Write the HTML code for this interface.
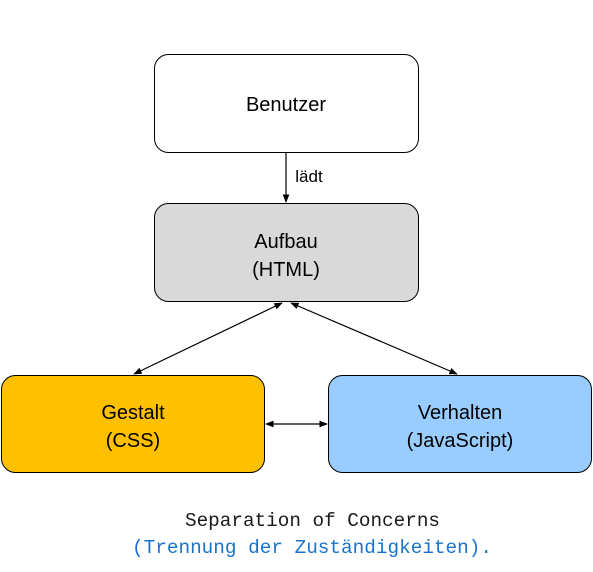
<!DOCTYPE html>
<html><head><meta charset="utf-8"><style>
html,body{margin:0;padding:0;background:#fff;width:593px;height:572px;overflow:hidden}
</style></head><body>
<svg width="593" height="572" viewBox="0 0 593 572" xmlns="http://www.w3.org/2000/svg">
<defs>
<marker id="a" viewBox="0 0 10 10" refX="9" refY="5" markerWidth="7" markerHeight="7" orient="auto-start-reverse"><path d="M0,1 L10,5 L0,9 z" fill="#000"/></marker>
</defs>
<rect x="154.5" y="54.5" width="264" height="98" rx="14" fill="#fff" stroke="#000" stroke-width="1"/>
<rect x="154.5" y="203.5" width="264" height="98" rx="14" fill="#d9d9d9" stroke="#000" stroke-width="1"/>
<rect x="1.5" y="375.5" width="263" height="97" rx="14" fill="#ffc000" stroke="#000" stroke-width="1"/>
<rect x="328.5" y="375.5" width="263" height="97" rx="14" fill="#99ccff" stroke="#000" stroke-width="1"/>
<line x1="286" y1="153" x2="286" y2="202" stroke="#000" stroke-width="1.2" marker-end="url(#a)"/>
<line x1="134" y1="374" x2="282" y2="303" stroke="#000" stroke-width="1.2" marker-start="url(#a)" marker-end="url(#a)"/>
<line x1="291" y1="303" x2="457" y2="374" stroke="#000" stroke-width="1.2" marker-start="url(#a)" marker-end="url(#a)"/>
<line x1="266" y1="424" x2="327" y2="424" stroke="#000" stroke-width="1.2" marker-start="url(#a)" marker-end="url(#a)"/>
<g font-family="Liberation Sans, sans-serif" font-size="20" text-anchor="middle" fill="#000">
<text x="286" y="111">Benutzer</text>
<text x="286" y="248">Aufbau</text>
<text x="286" y="276">(HTML)</text>
<text x="133" y="419">Gestalt</text>
<text x="133" y="447">(CSS)</text>
<text x="460" y="419">Verhalten</text>
<text x="460" y="447">(JavaScript)</text>
<text x="309" y="182" text-anchor="middle" font-size="17">lädt</text>
</g>
<g font-family="Liberation Mono, monospace" font-size="19">
<text x="185" y="526" textLength="255" lengthAdjust="spacingAndGlyphs" fill="#1a1a1a">Separation of Concerns</text>
<text x="132" y="553" textLength="360" lengthAdjust="spacingAndGlyphs" fill="#1a73c8">(Trennung der Zuständigkeiten).</text>
</g>
</svg>
</body></html>
